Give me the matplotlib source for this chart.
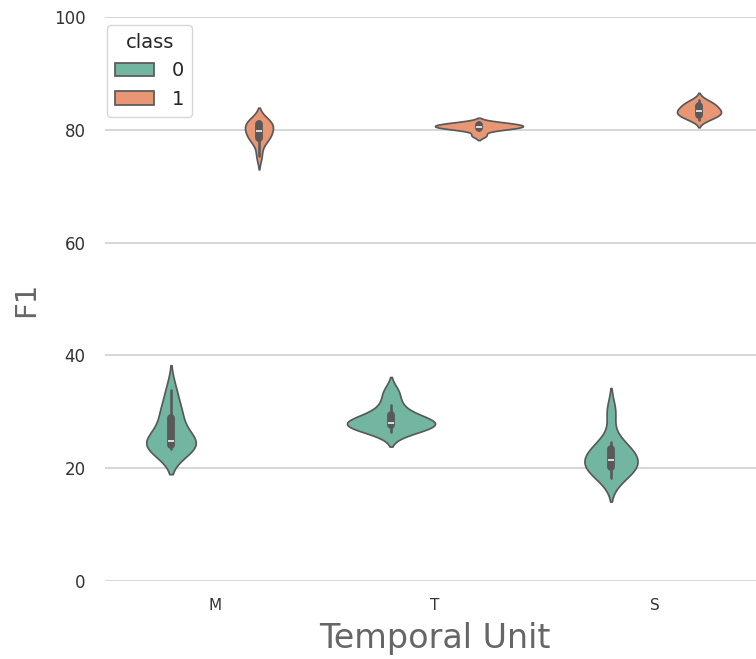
import numpy as np
import pandas as pd
import matplotlib
matplotlib.use("Agg")
import matplotlib.pyplot as plt
import seaborn as sns

units = ["M", "T", "S"]
classes = [0, 1]

m_class0 = [23.4, 23.7, 24.0, 24.3, 24.6, 25.0, 27.3, 29.5, 30.4, 33.8]
t_class0 = [26.5, 27.2, 27.5, 27.8, 28.0, 28.2, 28.6, 29.6, 31.2, 33.5]
s_class0 = [18.3, 19.3, 20.0, 20.7, 21.2, 21.8, 22.6, 23.6, 24.6, 30.0]
m_class1 = [75.4, 78.0, 78.4, 79.0, 79.6, 80.0, 80.8, 81.2, 81.4, 81.5]
t_class1 = [79.0, 80.0, 80.25, 80.4, 80.5, 80.65, 80.8, 80.95, 81.1, 81.3]
s_class1 = [81.8, 82.3, 82.6, 83.0, 83.2, 83.4, 83.9, 84.3, 84.6, 85.2]

groups = {
    ("M", 0): m_class0, ("T", 0): t_class0, ("S", 0): s_class0,
    ("M", 1): m_class1, ("T", 1): t_class1, ("S", 1): s_class1,
}
rows = []
for (u, c), vals in groups.items():
    for v in vals:
        rows.append({"Temporal Unit": u, "class": c, "F1": v})
df = pd.DataFrame(rows)

sns.set_theme(style="whitegrid")
plt.rcParams['font.family'] = ['DejaVu Sans']

fig = plt.figure(figsize=(7.56, 6.59), dpi=100)
ax = fig.add_axes([105/756, 1 - 581/659, 660/756, (581 - 17)/659])

sns.violinplot(data=df, x="Temporal Unit", y="F1", hue="class", order=units,
               hue_order=classes, palette="Set2", inner="box", ax=ax)

ax.set_ylim(0, 100)
ax.set_xlim(-0.5, 2.5)
ax.set_yticks([0, 20, 40, 60, 80, 100])
for s in ["left", "top", "right", "bottom"]:
    ax.spines[s].set_visible(False)
ax.tick_params(axis="y", labelsize=12, colors="#333333", length=0, pad=14)
ax.tick_params(axis="x", labelsize=11, colors="#333333", length=0, pad=12)
ax.set_xlabel("Temporal Unit", fontsize=24, color="#666666", labelpad=7)
ax.set_ylabel("F1", fontsize=21, color="#666666", labelpad=10)
ax.grid(axis="x", visible=False)
ax.grid(axis="y", color="#d0d0d0", linewidth=1.2)

leg = ax.legend(title="class", loc="upper left", fontsize=14, title_fontsize=14,
                bbox_to_anchor=(-0.008, 1.0), handletextpad=0.9, borderaxespad=0.4)

fig.savefig("out.png", dpi=100)
